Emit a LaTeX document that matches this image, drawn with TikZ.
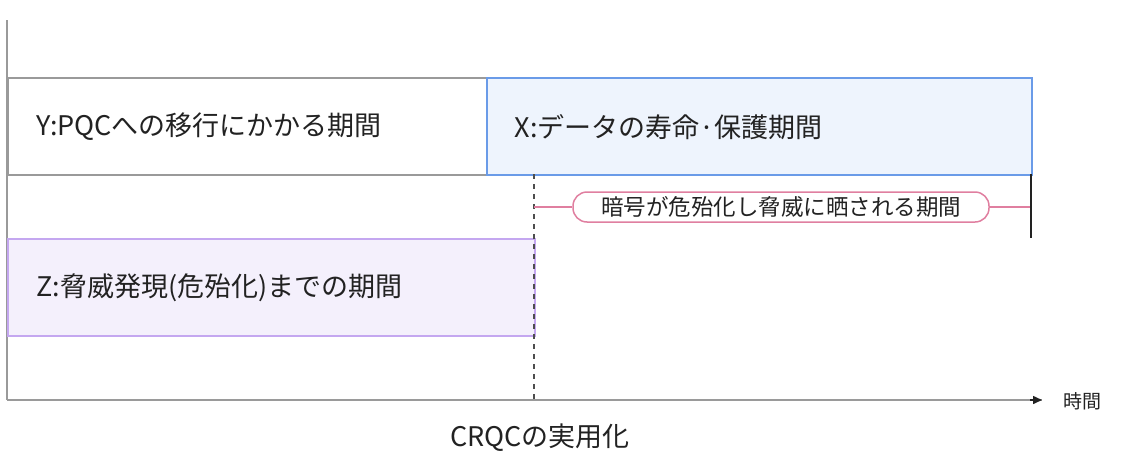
\documentclass[tikz,border=0pt]{standalone}
\usepackage{fontspec}
\setmainfont{Noto Sans CJK JP}
\usetikzlibrary{arrows.meta}
\definecolor{gline}{HTML}{9A9A9A}
\definecolor{xline}{HTML}{6A9BE8}
\definecolor{xfill}{HTML}{EEF4FD}
\definecolor{zline}{HTML}{C4A7F0}
\definecolor{zfill}{HTML}{F4F0FC}
\definecolor{pline}{HTML}{E07FA0}
\definecolor{txt}{HTML}{222222}
\tikzset{
  bar/.style={draw, line width=1.5pt, anchor=north west, minimum height=97pt, inner sep=0pt},
  lab/.style={anchor=west, text=txt, font=\fontsize{27}{30}\selectfont},
}
\begin{document}
\begin{tikzpicture}[x=1pt,y=-1pt]
\useasboundingbox (0,0) rectangle (1142,458);
\coordinate (ytop) at (7,20);
\coordinate (orig) at (7,400);
\coordinate (xend) at (1042,400);
\draw[gline, line width=1.5pt] (ytop) -- (orig);
\draw[gline, line width=1.5pt] (orig) -- (xend);
\draw[txt, -{Triangle[length=9pt,width=8pt]}, line width=1.5pt] (1030,400) -- (xend);
\node[anchor=west, text=txt, font=\fontsize{19}{22}\selectfont] (t) at (1060,401) {時間};
\node[bar, gline, fill=white, minimum width=479pt] (Y) at (7,77) {};
\node[bar, xline, fill=xfill, minimum width=545pt] (X) at (486,77) {};
\node[bar, zline, fill=zfill, minimum width=527pt] (Z) at (7,238) {};
\node[lab] at (33,127) {Y:PQCへの移行にかかる期間};
\node[lab] at (511,127) {X:データの寿命·保護期間};
\node[lab] at (33,288) {Z:脅威発現(危殆化)までの期間};
\coordinate (d1) at (534,174);
\coordinate (d2) at (534,400);
\draw[txt!80, line width=1.5pt, dash pattern=on 5pt off 5pt] (d1) -- (d2);
\coordinate (p1) at (534,207);
\coordinate (p2) at (1031,207);
\node[draw=pline, line width=1.5pt, fill=white, rounded corners=14pt, minimum height=30pt, minimum width=416pt, inner sep=0pt, text=txt, font=\fontsize{22.5}{24}\selectfont] (P) at (781,207) {暗号が危殆化し脅威に晒される期間};
\draw[pline, line width=1.5pt] (p1) -- (P.west);
\draw[pline, line width=1.5pt] (P.east) -- (p2);
\coordinate (b1) at (1031,174);
\coordinate (b2) at (1031,238);
\draw[txt, line width=1.5pt] (b1) -- (b2);
\node[text=txt, font=\fontsize{27}{30}\selectfont] (c) at (540,438) {CRQCの実用化};
\end{tikzpicture}
\end{document}
